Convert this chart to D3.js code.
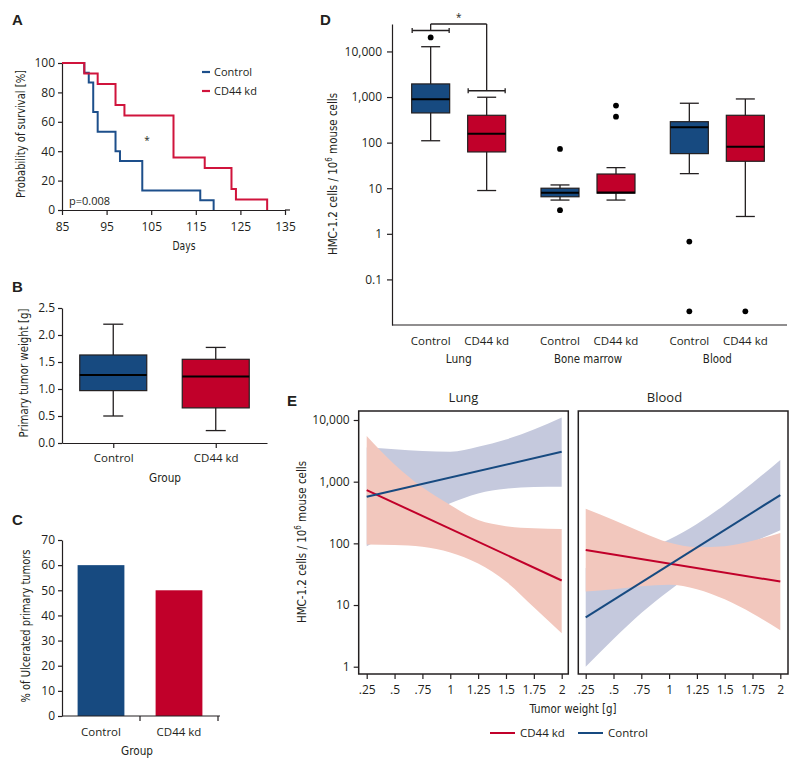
<!DOCTYPE html>
<html><head><meta charset="utf-8">
<script src="https://cdn.jsdelivr.net/npm/d3@7"></script>
<style>
body{margin:0;background:#fff;}
svg{display:block;}
</style></head><body>
<svg id="c" width="800" height="771"></svg>
<script>
// ---------------- DATA ----------------
const groups = ["Control", "CD44 kd"];

// Panel A: Kaplan-Meier survival
const aTicksX = [85, 95, 105, 115, 125, 135];
const aTicksY = [0, 20, 40, 60, 80, 100];
const ctrlDays = [85, 90, 91, 92, 93, 97, 98, 103, 116, 119];
const ctrlSurv = [100, 93.3, 86.7, 66.7, 53.3, 40, 33.3, 13.3, 6.7, 0];
const kdDays = [85, 90, 93, 97, 99, 110, 117, 123, 124, 131];
const kdSurv = [100, 92.9, 85.7, 71.4, 64.3, 35.7, 28.6, 14.3, 7.1, 0];

// Panel B: primary tumor weight box plot
const bTicks = [0, 0.5, 1, 1.5, 2, 2.5];
const bLow = [0.50, 0.23];
const bQ1 = [0.97, 0.65];
const bMed = [1.26, 1.23];
const bQ3 = [1.63, 1.55];
const bHigh = [2.20, 1.77];

// Panel C: % ulcerated
const cTicks = [0, 10, 20, 30, 40, 50, 60, 70];
const cValues = [60, 50];

// Panel D: HMC-1.2 cells per tissue
const dGroups = ["Lung", "Bone marrow", "Blood"];
const dTicks = [0.1, 1, 10, 100, 1000, 10000];
// order: Lung Ctrl, Lung kd, BM Ctrl, BM kd, Blood Ctrl, Blood kd
const dLow  = [110, 8.9, 5.5, 5.5, 20.9, 2.4];
const dQ1   = [448, 62.5, 6.5, 7.8, 57.4, 39];
const dMed  = [894, 157, 8.0, 8.1, 218, 81.6];
const dQ3   = [1940, 398, 10.0, 20.5, 288, 398];
const dHigh = [12700, 990, 11.8, 28.3, 731, 908];
const dOutliers = [[20300], [], [72.7, 3.3], [650, 371], [0.675, 0.02], [0.02]];
const dSigBars = [28800, 1375];

// Panel E: regression with confidence bands
const eX = [0.25, 0.5, 0.75, 1, 1.25, 1.5, 1.75, 2];
const eXLabels = [".25", ".5", ".75", "1", "1.25", "1.5", "1.75", "2"];
const eTicks = [1, 10, 100, 1000, 10000];
const eFitX = [0.25, 2];
const lungCtrlFit = [569, 3050];
const lungKdFit = [730, 25];
const bloodCtrlFit = [6.3, 607];
const bloodKdFit = [78, 24];
const lungCtrlUpper = [3590, 3370, 3130, 3050, 3680, 4840, 7030, 11000];
const lungCtrlLower = [90, 155, 269, 445, 645, 767, 817, 826];
const lungKdUpper = [5480, 1900, 809, 418, 239, 190, 175, 171];
const lungKdLower = [96, 94, 88, 71, 47, 24, 9.2, 3.5];
const bloodCtrlUpper = [40, 53, 74, 115, 206, 423, 953, 2250];
const bloodCtrlLower = [1.0, 2.8, 7.4, 17, 36, 64, 104, 163];
const bloodKdUpper = [364, 239, 153, 103, 87, 90, 110, 147];
const bloodKdLower = [16.6, 18.1, 20.2, 21.4, 18.1, 12.4, 7.3, 3.9];

// ---------------- STYLE ----------------
const BLUE = "#174a80", RED = "#c1002a";
const LBLUE = "#1d4f8b", LRED = "#d0143c";
const BAND_BLUE = "#c5c9dd", BAND_RED = "#f2c7bd";
const INK = "#231f20";
const TICKFONT = '"Open Sans", "Liberation Sans", sans-serif';
const TITLEFONT = '"Liberation Sans Narrow", "DejaVu Sans Condensed", "Roboto", sans-serif';

const svg = d3.select("#c");

function styleAxis(g, size) {
  g.selectAll("path,line").attr("stroke", INK).attr("stroke-width", 1.2);
  g.selectAll("text").attr("font-family", TICKFONT).attr("font-size", size || 12).attr("fill", INK);
  return g;
}
function ttext(parent, str, x, y, o) {
  o = o || {};
  const t = parent.append("text")
    .attr("font-family", o.family || TITLEFONT)
    .attr("font-size", o.size || 13)
    .attr("font-weight", o.weight || "normal")
    .attr("fill", INK)
    .attr("text-anchor", o.anchor || "middle");
  if (o.rotate) t.attr("transform", `translate(${x},${y}) rotate(-90)`);
  else t.attr("x", x).attr("y", y);
  if (o.len) t.attr("textLength", o.len).attr("lengthAdjust", "spacingAndGlyphs");
  t.text(str);
  return t;
}
function letter(str, x, y) {
  ttext(svg, str, x, y, {family: '"Liberation Sans", Arial, sans-serif', size: 15, weight: "bold", anchor: "start"});
}
function hmcLabel(x, y, len) {
  const t = svg.append("text")
    .attr("font-family", TITLEFONT).attr("font-size", 13).attr("fill", INK)
    .attr("text-anchor", "middle")
    .attr("transform", `translate(${x},${y}) rotate(-90)`)
    .attr("textLength", len).attr("lengthAdjust", "spacingAndGlyphs");
  t.append("tspan").text("HMC-1.2 cells / 10");
  t.append("tspan").attr("font-size", 9).attr("dy", -5).text("6");
  t.append("tspan").attr("dy", 5).text(" mouse cells");
}

// ---------------- PANEL A ----------------
letter("A", 12, 25);
const ax = d3.scaleLinear().domain([85, 135]).range([62, 285]);
const ay = d3.scaleLinear().domain([0, 100]).range([210, 63]);
const gA = svg.append("g");
styleAxis(gA.append("g").attr("transform", "translate(0,210)")
  .call(d3.axisBottom(ax).tickValues(aTicksX).tickSize(5).tickSizeOuter(0).tickPadding(7)));
gA.append("line").attr("x1", ax(135)).attr("x2", ax(135) + 5).attr("y1", 210).attr("y2", 210)
  .attr("stroke", INK).attr("stroke-width", 1.2);
styleAxis(gA.append("g").attr("transform", "translate(62,0)")
  .call(d3.axisLeft(ay).tickValues(aTicksY).tickSize(4).tickSizeOuter(0).tickPadding(3)));
const kmLine = d3.line().x(d => ax(d[0])).y(d => ay(d[1])).curve(d3.curveStepAfter);
gA.append("path").datum(d3.zip(ctrlDays, ctrlSurv)).attr("d", kmLine)
  .attr("fill", "none").attr("stroke", LBLUE).attr("stroke-width", 2);
gA.append("path").datum(d3.zip(kdDays, kdSurv)).attr("d", kmLine)
  .attr("fill", "none").attr("stroke", LRED).attr("stroke-width", 2);
// legend
[[LBLUE, "Control", 72], [LRED, "CD44 kd", 91]].forEach(([c, s, y]) => {
  gA.append("line").attr("x1", 202).attr("x2", 210).attr("y1", y).attr("y2", y)
    .attr("stroke", c).attr("stroke-width", 2.2);
  ttext(gA, s, 214, y + 4, {family: TICKFONT, size: 11, anchor: "start"});
});
ttext(gA, "*", 147, 144, {family: TICKFONT, size: 10});
ttext(gA, "p=0.008", 69, 205, {family: TICKFONT, size: 11, anchor: "start"});
ttext(gA, "Days", 184, 250, {len: 23});
ttext(gA, "Probability of survival [%]", 25, 134, {rotate: true, len: 128});

// ---------------- PANEL B ----------------
letter("B", 12, 292);
const bx = d3.scalePoint().domain(groups).range([62, 267]).padding(0.5);
const by = d3.scaleLinear().domain([0, 2.5]).range([443, 308]);
const gB = svg.append("g");
styleAxis(gB.append("g").attr("transform", "translate(0,443)")
  .call(d3.axisBottom(bx).tickSize(5).tickSizeOuter(0).tickPadding(6)), 11.5);
styleAxis(gB.append("g").attr("transform", "translate(62,0)")
  .call(d3.axisLeft(by).tickValues(bTicks).tickFormat(d3.format(".1f")).tickSize(4).tickSizeOuter(0).tickPadding(3)));
groups.forEach((g, i) => {
  const cxp = bx(g), col = i === 0 ? BLUE : RED;
  gB.append("line").attr("x1", cxp).attr("x2", cxp).attr("y1", by(bLow[i])).attr("y2", by(bHigh[i]))
    .attr("stroke", INK).attr("stroke-width", 1.3);
  [bLow[i], bHigh[i]].forEach(v => gB.append("line").attr("x1", cxp - 10).attr("x2", cxp + 10)
    .attr("y1", by(v)).attr("y2", by(v)).attr("stroke", INK).attr("stroke-width", 1.3));
  gB.append("rect").attr("x", cxp - 33.5).attr("width", 67)
    .attr("y", by(bQ3[i])).attr("height", by(bQ1[i]) - by(bQ3[i]))
    .attr("fill", col).attr("stroke", INK).attr("stroke-width", 1.2);
  gB.append("line").attr("x1", cxp - 33.5).attr("x2", cxp + 33.5).attr("y1", by(bMed[i])).attr("y2", by(bMed[i]))
    .attr("stroke", "#000").attr("stroke-width", 2);
});
ttext(gB, "Group", 165, 482, {len: 32});
ttext(gB, "Primary tumor weight [g]", 28, 373, {rotate: true, len: 129});

// ---------------- PANEL C ----------------
letter("C", 12, 525);
const cx = d3.scaleBand().domain(groups).range([62, 218]).paddingInner(0.4).paddingOuter(0.2);
const cy = d3.scaleLinear().domain([0, 70]).range([716, 540]);
const gC = svg.append("g");
gC.selectAll("rect.bar").data(cValues).join("rect").attr("class", "bar")
  .attr("x", (d, i) => cx(groups[i])).attr("width", cx.bandwidth())
  .attr("y", d => cy(d)).attr("height", d => cy(0) - cy(d))
  .attr("fill", (d, i) => i === 0 ? BLUE : RED);
styleAxis(gC.append("g").attr("transform", "translate(62,0)")
  .call(d3.axisLeft(cy).tickValues(cTicks).tickSize(4).tickSizeOuter(0).tickPadding(3)));
const cAxisEnd = cx.range()[1];
const cBoundary = cx(groups[1]) - cx.step() * cx.paddingInner() / 2;
gC.append("line").attr("x1", 62).attr("x2", cAxisEnd + 2).attr("y1", 716).attr("y2", 716)
  .attr("stroke", INK).attr("stroke-width", 1.2);
[cBoundary, cAxisEnd].forEach(x => gC.append("line").attr("x1", x).attr("x2", x).attr("y1", 716).attr("y2", 721)
  .attr("stroke", INK).attr("stroke-width", 1.2));
groups.forEach(g => ttext(gC, g, cx(g) + cx.bandwidth() / 2, 736, {family: TICKFONT, size: 11.5}));
ttext(gC, "Group", 137, 755, {len: 32});
ttext(gC, "% of Ulcerated primary tumors", 30, 626, {rotate: true, len: 153});

// ---------------- PANEL D ----------------
letter("D", 320, 25);
const dx0 = d3.scaleBand().domain(dGroups).range([394, 782]);
const dx1 = d3.scalePoint().domain(groups).range([-28, 28]);
const dy = d3.scaleLog().domain([0.01, 40000]).range([325, 24]);
const gD = svg.append("g");
styleAxis(gD.append("g").attr("transform", "translate(392,0)")
  .call(d3.axisLeft(dy).tickValues(dTicks).tickFormat(d3.format(",")).tickSize(5).tickSizeOuter(0).tickPadding(5)));
gD.append("line").attr("x1", 392).attr("x2", 787).attr("y1", 325).attr("y2", 325)
  .attr("stroke", INK).attr("stroke-width", 1.2);
const dCenters = [];
dGroups.forEach(G => groups.forEach(g => dCenters.push(dx0(G) + dx0.bandwidth() / 2 + dx1(g))));
dCenters.forEach((c, i) => {
  const col = i % 2 === 0 ? BLUE : RED;
  gD.append("line").attr("x1", c).attr("x2", c).attr("y1", dy(dLow[i])).attr("y2", dy(dHigh[i]))
    .attr("stroke", INK).attr("stroke-width", 1.3);
  [dLow[i], dHigh[i]].forEach(v => gD.append("line").attr("x1", c - 9.5).attr("x2", c + 9.5)
    .attr("y1", dy(v)).attr("y2", dy(v)).attr("stroke", INK).attr("stroke-width", 1.3));
  gD.append("rect").attr("x", c - 19).attr("width", 38)
    .attr("y", dy(dQ3[i])).attr("height", dy(dQ1[i]) - dy(dQ3[i]))
    .attr("fill", col).attr("stroke", INK).attr("stroke-width", 1.2);
  gD.append("line").attr("x1", c - 19).attr("x2", c + 19).attr("y1", dy(dMed[i])).attr("y2", dy(dMed[i]))
    .attr("stroke", "#000").attr("stroke-width", 2);
  dOutliers[i].forEach(v => gD.append("circle").attr("cx", c).attr("cy", dy(v)).attr("r", 2.9).attr("fill", "#000"));
  ttext(gD, groups[i % 2], c, 345, {family: TICKFONT, size: 11.5});
});
dGroups.forEach((G, k) => {
  const lens = [26, 68, 29];
  ttext(gD, G, (dCenters[2 * k] + dCenters[2 * k + 1]) / 2, 363, {len: lens[k]});
});
// significance bracket with mean bars
const sigTop = dy.range()[1];
[0, 1].forEach(i => {
  const c = dCenters[i], yy = dy(dSigBars[i]);
  gD.append("line").attr("x1", c - 18.5).attr("x2", c + 18.5).attr("y1", yy).attr("y2", yy)
    .attr("stroke", INK).attr("stroke-width", 1.3);
  [c - 18.5, c + 18.5].forEach(x => gD.append("line").attr("x1", x).attr("x2", x).attr("y1", yy - 2.5).attr("y2", yy + 2.5)
    .attr("stroke", INK).attr("stroke-width", 1.3));
  gD.append("line").attr("x1", c).attr("x2", c).attr("y1", yy).attr("y2", sigTop)
    .attr("stroke", INK).attr("stroke-width", 1.3);
});
gD.append("line").attr("x1", dCenters[0]).attr("x2", dCenters[1]).attr("y1", sigTop).attr("y2", sigTop)
  .attr("stroke", INK).attr("stroke-width", 1.3);
ttext(gD, "*", (dCenters[0] + dCenters[1]) / 2, 21, {family: TICKFONT, size: 10});
hmcLabel(337, 174, 162);

// ---------------- PANEL E ----------------
letter("E", 287, 406);
const ey = d3.scaleLog().domain([1, 10000]).range([666.7, 420]);
const gE = svg.append("g");
const panels = [
  {x0: 358.7, x1: 568.3, range: [366.7, 561.7], title: "Lung", tx: 463.5, tlen: 33,
   cu: lungCtrlUpper, cl: lungCtrlLower, ku: lungKdUpper, kl: lungKdLower, cf: lungCtrlFit, kf: lungKdFit},
  {x0: 578.3, x1: 788, range: [585.7, 780.3], title: "Blood", tx: 664.5, tlen: 39,
   cu: bloodCtrlUpper, cl: bloodCtrlLower, ku: bloodKdUpper, kl: bloodKdLower, cf: bloodCtrlFit, kf: bloodKdFit}
];
const eTop = 411, eBot = 674;
panels.forEach((p, k) => {
  const xs = d3.scaleLinear().domain([0.25, 2]).range(p.range);
  const g = gE.append("g");
  const area = (lo, hi) => d3.area().x((d, i) => xs(eX[i])).y0((d, i) => ey(lo[i])).y1((d, i) => ey(hi[i]))
    .curve(d3.curveMonotoneX)(eX);
  g.append("path").attr("d", area(p.cl, p.cu)).attr("fill", BAND_BLUE);
  g.append("path").attr("d", area(p.kl, p.ku)).attr("fill", BAND_RED);
  const fl = vals => d3.line().x((d, i) => xs(eFitX[i])).y((d, i) => ey(vals[i]))(eFitX);
  g.append("path").attr("d", fl(p.kf)).attr("fill", "none").attr("stroke", RED).attr("stroke-width", 2);
  g.append("path").attr("d", fl(p.cf)).attr("fill", "none").attr("stroke", BLUE).attr("stroke-width", 2);
  g.append("rect").attr("x", p.x0).attr("y", eTop).attr("width", p.x1 - p.x0).attr("height", eBot - eTop)
    .attr("fill", "none").attr("stroke", INK).attr("stroke-width", 1.5);
  const xa = g.append("g").attr("transform", `translate(0,${eBot})`)
    .call(d3.axisBottom(xs).tickValues(eX).tickFormat((d, i) => eXLabels[i]).tickSize(5).tickSizeOuter(0).tickPadding(6));
  xa.select(".domain").remove();
  styleAxis(xa);
  if (k === 0) {
    const ya = g.append("g").attr("transform", `translate(${p.x0},0)`)
      .call(d3.axisLeft(ey).tickValues(eTicks).tickFormat(d3.format(",")).tickSize(5).tickPadding(4));
    ya.select(".domain").remove();
    styleAxis(ya);
  }
  ttext(g, p.title, p.tx, 402, {family: TICKFONT, size: 13});
});
ttext(gE, "Tumor weight [g]", 573, 713, {len: 87});
[[RED, "CD44 kd", 490], [BLUE, "Control", 578]].forEach(([c, s, x]) => {
  gE.append("line").attr("x1", x).attr("x2", x + 25).attr("y1", 733).attr("y2", 733)
    .attr("stroke", c).attr("stroke-width", 2);
  ttext(gE, s, x + 30, 737, {family: TICKFONT, size: 11.5, anchor: "start"});
});
hmcLabel(306, 542, 162);
</script></body></html>
